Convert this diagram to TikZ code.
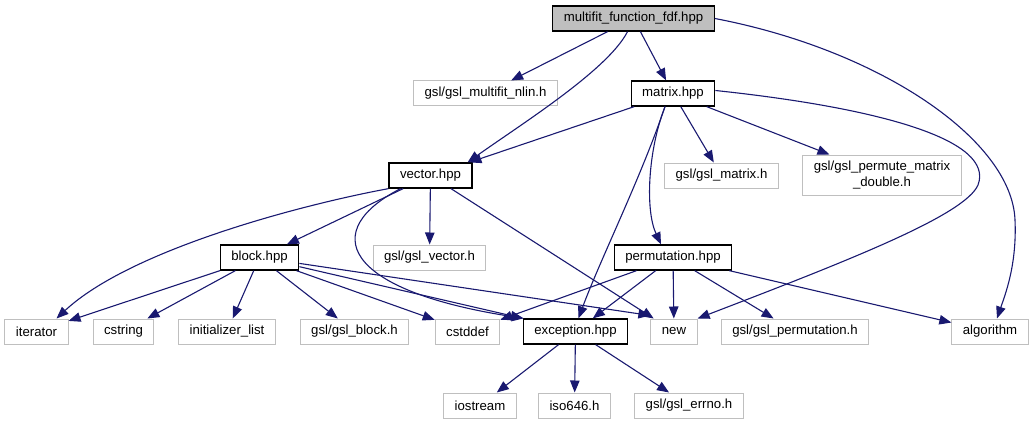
\documentclass[tikz,border=0pt]{standalone}
\usepackage{fontspec}
\setmainfont{Liberation Sans}
\usetikzlibrary{arrows.meta}

\definecolor{edgeblue}{HTML}{191970}
\definecolor{boxgray}{HTML}{BFBFBF}

\tikzset{
  hdr/.style={draw=boxgray, line width=1pt, inner xsep=11pt, inner ysep=0pt,
    minimum height=25pt, font=\fontsize{13.2}{15.5}\selectfont},
  src/.style={hdr, draw=black, line width=1.3pt},
  dep/.style={draw=edgeblue, line width=1.1pt, -{Triangle[length=12pt,width=9.5pt]}}
}

\begin{document}
\begin{tikzpicture}[x=1pt, y=-1pt]
        \useasboundingbox (0,0) rectangle (1033,425);

        % Included files
        \node[src, fill=boxgray] (fdf) at (633.5,18.5) {multifit\_function\_fdf.hpp};
        \node[hdr] (nlin) at (485.5,93.5) {gsl/gsl\_multifit\_nlin.h};
        \node[src] (matrix) at (673,93.5) {matrix.hpp};
        \node[src] (vector) at (430.5,175.5) {vector.hpp};
        \node[hdr] (gmatrix) at (721.5,175.5) {gsl/gsl\_matrix.h};
        \node[hdr, align=center, minimum height=40pt] (permmat) at (882,175) {gsl/gsl\_permute\_matrix\\\_double.h};
        \node[src] (block) at (259.5,257.5) {block.hpp};
        \node[hdr] (gvector) at (429.5,257.5) {gsl/gsl\_vector.h};
        \node[src] (perm) at (673,257.5) {permutation.hpp};
        \node[hdr] (iterator) at (36.5,331.5) {iterator};
        \node[hdr] (cstring) at (123.5,331.5) {cstring};
        \node[hdr] (initlist) at (227,331.5) {initializer\_list};
        \node[hdr] (gblock) at (354.5,331.5) {gsl/gsl\_block.h};
        \node[hdr] (cstddef) at (467.5,331.5) {cstddef};
        \node[src] (exception) at (575.5,331.5) {exception.hpp};
        \node[hdr] (new) at (674,331.5) {new};
        \node[hdr] (gperm) at (795,331.5) {gsl/gsl\_permutation.h};
        \node[hdr] (algorithm) at (990,331.5) {algorithm};
        \node[hdr] (iostream) at (480,405.5) {iostream};
        \node[hdr] (iso) at (574.5,405.5) {iso646.h};
        \node[hdr] (gerrno) at (689,405.5) {gsl/gsl\_errno.h};

        % multifit_function_fdf.hpp
        \draw[dep] (fdf) -- (nlin);
        \draw[dep] (fdf) -- (matrix);
        \draw[dep] ([xshift=-6pt]fdf.south) .. controls (608,70) and (520,125) .. ([xshift=-5pt]vector.north east);
        \draw[dep] (fdf.east) .. controls (880,50) and (1012,140) .. (1015,220)
                   .. controls (1017,265) and (1005,295) .. ([xshift=7pt]algorithm.north);

        % matrix.hpp
        \draw[dep] (matrix) -- (vector);
        \draw[dep] (matrix) -- (gmatrix);
        \draw[dep] (matrix) -- (permmat);
        \draw[dep] ([xshift=-8pt]matrix.south) .. controls (640,180) and (600,260) .. ([xshift=3pt]exception.north);
        \draw[dep] ([xshift=-8pt]matrix.south) .. controls (648,150) and (645,210) .. ([xshift=-12pt]perm.north);
        \draw[dep] ([yshift=3pt]matrix.east) .. controls (880,108) and (995,140) .. (978,185)
                   .. controls (965,215) and (850,260) .. (new.north east);

        % vector.hpp
        \draw[dep] (vector) -- (block);
        \draw[dep] (vector) -- (gvector);
        \draw[dep] (vector) -- (new);
        \draw[dep] (vector.south west) .. controls (300,205) and (130,250) .. ([xshift=20pt]iterator.north);
        \draw[dep] ([xshift=-30pt]vector.south) .. controls (320,230) and (340,290) .. ([xshift=1pt]exception.north west);

        % block.hpp
        \draw[dep] (block) -- (iterator);
        \draw[dep] (block) -- (cstring);
        \draw[dep] (block) -- (initlist);
        \draw[dep] (block) -- (gblock);
        \draw[dep] (block) -- (cstddef);
        \draw[dep] (block) -- (exception.north west);
        \draw[dep] (block) -- ([yshift=3pt]new.north west);

        % permutation.hpp
        \draw[dep] (perm) -- (cstddef);
        \draw[dep] (perm) -- (exception);
        \draw[dep] (perm) -- (new);
        \draw[dep] (perm) -- (gperm);
        \draw[dep] (perm) -- (algorithm);

        % exception.hpp
        \draw[dep] (exception) -- (iostream);
        \draw[dep] (exception) -- (iso);
        \draw[dep] (exception) -- (gerrno);
\end{tikzpicture}
\end{document}
